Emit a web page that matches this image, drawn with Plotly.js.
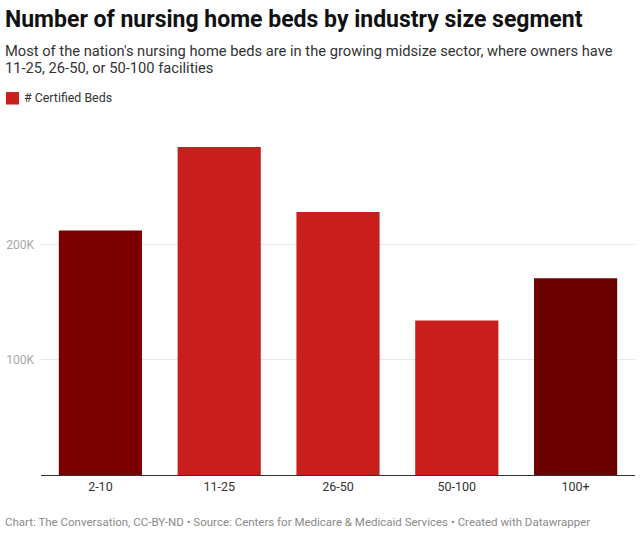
<!DOCTYPE html>
<html>
<head>
<meta charset="utf-8">
<script src="https://cdn.plot.ly/plotly-3.0.1.min.js"></script>
<style>html,body{margin:0;padding:0;background:#fff;}#chart{width:640px;height:535px;}</style>
</head>
<body>
<div id="chart"></div>
<script>
const categories = ["2-10", "11-25", "26-50", "50-100", "100+"];
const certifiedBeds = [212000, 284500, 228000, 134000, 170500];
const barColors = ["#7a0000", "#c81e1e", "#c81e1e", "#c81e1e", "#6b0000"];
const yTickVals = [100000, 200000];
const yTickText = ["100K", "200K"];

const W = 640, H = 535;
const L = 41, R = 5, T = 128.5, B = 60;
const pw = W - L - R, ph = H - T - B;
const px = x => (x - L) / pw;
const py = y => (H - B - y) / ph;

const font = "Roboto, 'Noto Sans', sans-serif";

const trace = {
  type: "bar",
  x: categories,
  y: certifiedBeds,
  marker: {color: barColors},
  name: "# Certified Beds",
  hoverinfo: "x+y"
};

const layout = {
  width: W, height: H,
  margin: {l: L, r: R, t: T, b: B, pad: 0},
  paper_bgcolor: "#fff", plot_bgcolor: "#fff",
  showlegend: false,
  bargap: 0.3,
  font: {family: font, color: "#333"},
  xaxis: {
    type: "category",
    showgrid: false,
    showline: true, linecolor: "#333", linewidth: 1,
    ticks: "", tickfont: {size: 12.5, color: "#333", family: font},
    fixedrange: true
  },
  yaxis: {
    range: [0, 300000],
    tickvals: yTickVals, ticktext: yTickText,
    showgrid: true, gridcolor: "#e8e8e8", gridwidth: 1,
    zeroline: false, showline: false,
    ticks: "", tickfont: {size: 12, color: "#a8a8a8", family: font},
    ticklabelstandoff: 6,
    fixedrange: true
  },
  shapes: [
    {type: "rect", xref: "paper", yref: "paper",
     x0: px(6), x1: px(19), y0: py(104), y1: py(91.5),
     fillcolor: "#c81e1e", line: {width: 0}}
  ],
  annotations: [
    {text: "<b>Number of nursing home beds by industry size segment</b>",
     xref: "paper", yref: "paper", x: px(3), y: py(19), xanchor: "left", yanchor: "middle",
     showarrow: false, font: {family: font, size: 23, color: "#111"}},
    {text: "Most of the nation's nursing home beds are in the growing midsize sector, where owners have",
     xref: "paper", yref: "paper", x: px(3), y: py(50), xanchor: "left", yanchor: "middle",
     showarrow: false, font: {family: font, size: 14.7, color: "#333"}},
    {text: "11-25, 26-50, or 50-100 facilities",
     xref: "paper", yref: "paper", x: px(3), y: py(67.5), xanchor: "left", yanchor: "middle",
     showarrow: false, font: {family: font, size: 14.7, color: "#333"}},
    {text: "# Certified Beds",
     xref: "paper", yref: "paper", x: px(22), y: py(97), xanchor: "left", yanchor: "middle",
     showarrow: false, font: {family: font, size: 12.4, color: "#333"}},
    {text: "Chart: The Conversation, CC-BY-ND • Source: Centers for Medicare & Medicaid Services • Created with Datawrapper",
     xref: "paper", yref: "paper", x: px(3), y: py(522), xanchor: "left", yanchor: "middle",
     showarrow: false, font: {family: font, size: 11.5, color: "#8a8a8a"}}
  ]
};

Plotly.newPlot("chart", [trace], layout, {displayModeBar: false, staticPlot: true});
</script>
</body>
</html>
